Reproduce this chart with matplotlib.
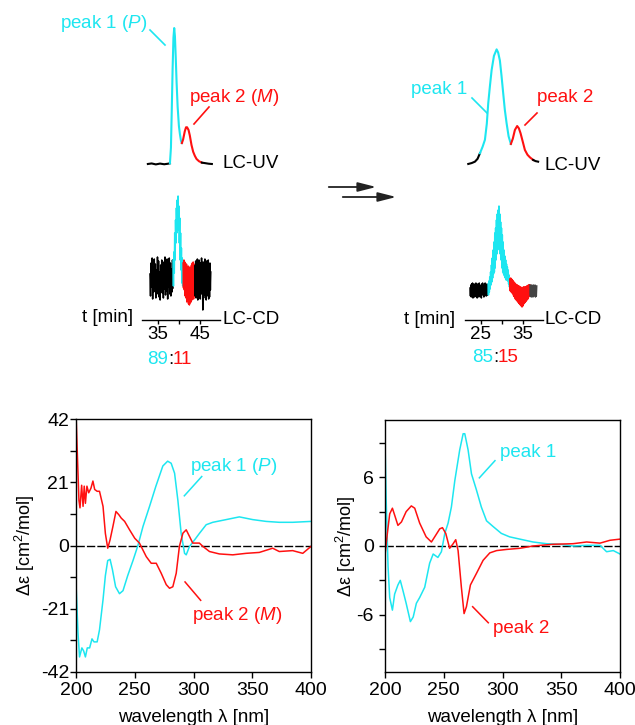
import numpy as np
import matplotlib.pyplot as plt
from matplotlib.lines import Line2D
from matplotlib.patches import FancyArrowPatch

plt.rcParams['font.family'] = ['Liberation Sans', 'DejaVu Sans']
plt.rcParams['mathtext.fontset'] = 'custom'
plt.rcParams['mathtext.rm'] = 'Liberation Sans'
plt.rcParams['mathtext.it'] = 'Liberation Sans:italic'
plt.rcParams['font.size'] = 13.5
plt.rcParams['axes.unicode_minus'] = False

CYAN = '#1de6f0'
RED = '#ff1010'

# ---- LC-UV chromatograms (time in min, absorbance in %) ----
uv1_t = [32.6, 33.5, 34.5, 35.5, 36.5, 37.4, 37.86, 38.1, 38.3, 38.5, 38.7, 38.88,
         39.05, 39.25, 39.45, 39.7, 40.0, 40.24, 40.5, 40.71, 41.0, 41.4, 41.7,
         41.95, 42.3, 42.6, 43.0, 43.4, 43.8, 44.2, 44.8, 45.48, 46.3, 47.1, 47.86]
uv1_a = [0, 0.4, -0.3, 0.3, -0.2, 0.2, 0.5, 12, 40, 70, 93, 100,
         94, 78, 60, 42, 28, 22, 17, 15.4, 18, 24, 27,
         27, 25, 21, 14, 9, 6, 3.7, 2, 1, 0.6, 0.2, 0]
uv1_cuts = [37.86, 40.71, 45.48]

uv2_t = [21.98, 22.8, 23.57, 24.2, 24.76, 25.4, 25.95, 26.4, 26.74, 27.15, 27.55,
         28.1, 28.74, 29.1, 29.52, 29.9, 30.31, 30.7, 31.12, 31.6, 32.14, 32.6,
         33.1, 33.64, 34.05, 34.45, 35.0, 35.48, 36.1, 36.67, 37.45, 38.0, 38.64]
uv2_a = [0, 0.8, 2, 4.5, 9.3, 15, 21, 35, 52.8, 68, 81.7,
         94, 99.7, 97, 90, 77, 61.5, 47, 35.4, 24, 17.4, 22,
         29.6, 33, 31, 26.7, 19, 12.2, 8, 5.8, 3.5, 2.5, 2]
uv2_cuts = [24.76, 32.14, 37.45]

# ---- LC-CD chromatograms (noisy, mdeg arbitrary) ----
cd1_edges = [33.1, 38.6, 41.0, 43.8, 47.6]
cd1_black_a = [4, -18, 15, -9, 20, -21, 11, -14, 19, -6, 14, -20, 8, -16, 21, -12,
               17, -19, 6, -22, 13, -8, 18, -15, 10, -20, 16, -11, 21, -17, 7, -13,
               19, -21, 12, -9, 20, -16, 15, -18, 9, -14, 18, -10]
cd1_cyan = [18, -8, 26, 5, 45, 18, 58, 35, 70, 45, 78, 50, 82, 48, 72, 35, 60, 18,
            45, 8, 30, -5, 20, -8, 15]
cd1_red = [15, -10, 18, -12, 16, -18, 12, -20, 14, -24, 10, -22, 12, -26, 8, -27,
           11, -25, 9, -24, 13, -22, 15, -20, 16, -21, 14, -18, 12]
cd1_black_b = [12, -18, 17, -20, 9, -15, 19, -22, 14, -12, 18, -19, 8, -21, 15, -16,
               20, -13, 11, -32, 16, -20, 13, -17, 19, -14, 10, -22, 17, -18, 12,
               -15, 18, -21, 9, -19, 15, -12, 6]

cd2_edges = [22.4, 26.7, 31.9, 36.7, 38.3]
cd2_black_a = [2, -6, 5, -7, 6, -4, 7, -8, 3, -5, 6, -7, 4, -6, 7, -3, 5, -8, 6, -5,
               3, -7, 7, -4, 5, -6, 2, -8, 6, -5, 7, -3, 4, -7, 5, -6, 7, -4, 3, -6,
               6, -5, 5, -2]
cd2_cyan = [6, -5, 9, -2, 13, 1, 18, 5, 25, 8, 32, 12, 40, 16, 48, 18, 57, 22, 62,
            30, 70, 36, 76, 40, 80, 44, 84, 42, 76, 36, 68, 30, 62, 22, 55, 18, 48,
            16, 40, 14, 34, 12, 30, 10, 26, 10, 23, 9, 20, 6, 15, 3, 11]
cd2_red = [11, -1, 12, -2, 11, -3, 10, -4, 9, -6, 8, -7, 7, -9, 6, -10, 5, -11, 5,
           -12, 4, -13, 4, -14, 3, -15, 3, -16, 2, -17, 2, -16, 3, -14, 3, -13, 3,
           -12, 3, -11, 4, -10, 4, -9, 5, -7, 5, -6, 5]
cd2_black_b = [5, -6, 4, -7, 5, -5, 3, -7, 5, -6, 4, -5, 5, -7, 3, -6, 4]

# ---- CD spectra ----
wl_a_p1 = [200, 201.7, 203, 205, 206.5, 208, 209.6, 211.6, 213.6, 215.3, 218, 220,
           223, 225, 227, 229, 231, 233.7, 237, 240, 244, 248.5, 252.7, 257, 262.6,
           268, 273.9, 278, 281, 283.9, 286.7, 289.5, 292.4, 293.8, 296.6, 301, 305,
           310.8, 316.4, 327.8, 339, 350.4, 361.8, 373, 384.4, 400]
de_a_p1 = [-12.6, -29, -37, -34, -35, -37, -34, -34, -31, -32, -32, -28,
           -18, -10, -5, -4.6, -8, -13.7, -16, -15, -10, -5, 0, 6.3, 13,
           19.7, 26.4, 28, 27.3, 24, 15, 4, -2.6, -3.1, -0.3, 1.9, 4,
           6.9, 7.7, 8.6, 9.5, 8.6, 8, 7.7, 7.7, 8]
wl_a_p2 = [200, 201, 202.5, 203.4, 204.8, 206, 207, 208, 209.3, 210.8, 212.7, 214.4,
           215.9, 218, 220, 223, 225, 227, 229, 231.4, 234, 236.5, 238.5, 241.4,
           245.6, 250, 254, 259.8, 264, 268.3, 272.5, 276.8, 279.6, 282.4, 285.3,
           288, 291, 293.8, 296.6, 299.4, 305, 308, 313.6, 322, 333.4, 344.8, 356,
           367.4, 373, 384.4, 393, 400]
de_a_p2 = [44, 32, 15, 12.5, 20, 13, 19.7, 14, 19.7, 17.5, 19, 21.4,
           18.6, 18, 18, 13, 4, -0.9, 1.9, 6.3, 11.3, 10.2, 9.1, 8,
           5.2, 2.4, 0.8, -3.7, -5.9, -5.9, -9.2, -13, -14.2, -13.7, -9.2,
           -0.3, 4.1, 5.2, 3, 0.8, 0.8, -0.3, -2, -2.8, -3.1, -2.6, -2.3,
           -0.9, -2, -1.7, -2.6, -0.3]

wl_b_p1 = [200, 201, 202.6, 204, 206.3, 208.2, 211, 213, 215.3, 218, 221.6, 224,
           226.7, 229.5, 233.8, 238, 241, 245, 248, 250.9, 253.7, 256.5, 259.4,
           263.6, 266.5, 267.9, 270.7, 273.6, 277.8, 282, 286.4, 292, 299, 306,
           314.8, 326, 337.5, 348.9, 360, 371.6, 383, 388.6, 394.3, 400]
de_b_p1 = [9.2, 4, -1.8, -4.5, -5.6, -4.2, -3.4, -3.0, -3.9, -5, -6.6, -6.2,
           -5, -4.5, -3.6, -1.5, -0.7, -1, -0.5, 1.1, 2, 3.4, 5.7,
           8.4, 9.8, 9.8, 8.4, 6.3, 4.9, 3.4, 2.2, 1.7, 1.1, 0.8,
           0.6, 0.35, 0.2, 0.15, 0, 0.06, 0.06, -0.5, -0.4, -0.7]
wl_b_p2 = [200, 202, 204, 206.3, 208.2, 211, 214, 218, 222.4, 225.3, 229.5, 235,
           239.5, 242.3, 246.6, 248.9, 251.7, 255, 258, 260.2, 262.2, 265, 267.3,
           269.3, 272.7, 277.8, 283.5, 289.2, 295, 303.4, 314.8, 326, 343, 360,
           371.6, 383, 391.5, 400]
de_b_p2 = [-0.8, 1.1, 2.8, 3.3, 2.7, 1.8, 2.1, 3.0, 3.5, 3.3, 2.0, 0.8,
           0.35, 0.8, 1.5, 1.6, 1.1, -0.2, 0.2, 0.55, -0.4, -3.6, -5.9,
           -5.3, -3.4, -2.4, -1.25, -0.6, -0.4, -0.3, -0.2, 0, 0.15, 0.2,
           0.35, 0.25, 0.5, 0.6]

W, H = 635, 725
fig = plt.figure(figsize=(W / 100, H / 100), dpi=100)


def rect(x0, y0, x1, y1):
    # pixel box (top-left origin) -> figure fraction
    return [x0 / W, 1 - y1 / H, (x1 - x0) / W, (y1 - y0) / H]


def ftext(x, y, s, **kw):
    fig.text(x / W, 1 - y / H, s, va='center', **kw)


def fline(x0, y0, x1, y1, color):
    fig.add_artist(Line2D([x0 / W, x1 / W], [1 - y0 / H, 1 - y1 / H],
                          transform=fig.transFigure, color=color, lw=1.2))


def hide_all(ax):
    for s in ax.spines.values():
        s.set_visible(False)
    ax.set_xticks([])
    ax.set_yticks([])
    ax.patch.set_alpha(0)


def draw_uv(ax, t, a, cuts):
    t = np.array(t)
    a = np.array(a)
    edges = [t[0]] + cuts + [t[-1]]
    colors = ['black', CYAN, RED, 'black']
    for i in range(4):
        m = (t >= edges[i]) & (t <= edges[i + 1])
        ax.plot(t[m], a[m], color=colors[i], lw=1.5)


def draw_cd(ax, edges, segs, colors):
    for i, (vals, c) in enumerate(zip(segs, colors)):
        tt = np.linspace(edges[i], edges[i + 1], len(vals))
        ax.plot(tt, vals, color=c, lw=1.1)


# ---- top left schematic ----
ax_uv1 = fig.add_axes(rect(142, 15, 220, 175))
draw_uv(ax_uv1, uv1_t, uv1_a, uv1_cuts)
ax_uv1.set_xlim(31.2, 49.8)
ax_uv1.set_ylim(-8.1, 109.6)
hide_all(ax_uv1)

ax_cd1 = fig.add_axes(rect(142, 185, 220, 320))
draw_cd(ax_cd1, cd1_edges, [cd1_black_a, cd1_cyan, cd1_red, cd1_black_b],
        ['black', CYAN, RED, 'black'])
ax_cd1.set_xlim(31.2, 49.8)
ax_cd1.set_ylim(-42, 93)

# ---- top right schematic ----
ax_uv2 = fig.add_axes(rect(465, 15, 543, 175))
draw_uv(ax_uv2, uv2_t, uv2_a, uv2_cuts)
ax_uv2.set_xlim(21.2, 39.8)
ax_uv2.set_ylim(-9.6, 129.6)
hide_all(ax_uv2)

ax_cd2 = fig.add_axes(rect(465, 185, 543, 320))
draw_cd(ax_cd2, cd2_edges, [cd2_black_a, cd2_cyan, cd2_red, cd2_black_b],
        ['black', CYAN, RED, '#444444'])
ax_cd2.set_xlim(21.2, 39.8)
ax_cd2.set_ylim(-30, 105)

for ax, major, minor in [(ax_cd1, [35, 45], [40]), (ax_cd2, [25, 35], [30])]:
    for side in ['top', 'right', 'left']:
        ax.spines[side].set_visible(False)
    ax.spines['bottom'].set_linewidth(1.0)
    ax.set_yticks([])
    ax.set_xticks(major)
    ax.set_xticks(minor, minor=True)
    ax.tick_params(axis='x', which='both', direction='out', length=3,
                   width=1, pad=1, labelsize=13.5)
    ax.patch.set_alpha(0)

# top texts
ftext(147, 23, 'peak 1 ($\\mathit{P}$)', color=CYAN, ha='right')
fline(150, 30, 165, 45, CYAN)
ftext(189, 97, 'peak 2 ($\\mathit{M}$)', color=RED, ha='left')
fline(209, 107, 194, 124, RED)
ftext(222, 164, 'LC-UV', ha='left')
ftext(222, 320, 'LC-CD', ha='left')
ftext(133, 318, 't [min]', ha='right')
ftext(168, 360, '89', color=CYAN, ha='right')
ftext(170.5, 360, ':', ha='center')
ftext(173, 360, '11', color=RED, ha='left')

ftext(467, 90, 'peak 1', color=CYAN, ha='right')
fline(472, 98, 487, 113, CYAN)
ftext(537, 98, 'peak 2', color=RED, ha='left')
fline(537, 113, 525, 125, RED)
ftext(544, 165, 'LC-UV', ha='left')
ftext(545, 320, 'LC-CD', ha='left')
ftext(455, 320, 't [min]', ha='right')
ftext(493, 358, '85', color=CYAN, ha='right')
ftext(495.5, 358, ':', ha='center')
ftext(498, 358, '15', color=RED, ha='left')

# arrows
for (x0, x1, y) in [(326, 379, 187), (340, 399, 197)]:
    fig.add_artist(FancyArrowPatch((x0 / W, 1 - y / H), (x1 / W, 1 - y / H),
                                   transform=fig.transFigure,
                                   arrowstyle='-|>,head_length=1.1,head_width=0.28',
                                   mutation_scale=10, color='#222222', lw=1.3))

# ---- bottom CD spectra ----
ax_a = fig.add_axes(rect(76, 419, 311, 672))
ax_b = fig.add_axes(rect(385, 420, 620, 672))

ax_a.axhline(0, color='black', lw=1.0, ls=(0, (6, 1.5)), zorder=1)
ax_a.plot(wl_a_p1, de_a_p1, color=CYAN, lw=1.1)
ax_a.plot(wl_a_p2, de_a_p2, color=RED, lw=1.1)
ax_a.set_ylim(-42, 42)
ax_a.set_yticks([-42, -21, 0, 21, 42])
ax_a.set_yticks([-31.5, -10.5, 10.5, 31.5], minor=True)
ax_a.text(296.6, 26.2, 'peak 1 ($\\mathit{P}$)', color=CYAN, va='center')
ax_a.plot([307.0, 292.2], [22.9, 16.5], color=CYAN, lw=1.1)
ax_a.text(298.7, -23.2, 'peak 2 ($\\mathit{M}$)', color=RED, va='center')
ax_a.plot([292.8, 306.1], [-12.1, -18.2], color=RED, lw=1.1)

ax_b.axhline(0, color='black', lw=1.0, ls=(0, (6, 1.5)), zorder=1)
ax_b.plot(wl_b_p1, de_b_p1, color=CYAN, lw=1.1)
ax_b.plot(wl_b_p2, de_b_p2, color=RED, lw=1.1)
ax_b.set_ylim(-11, 11)
ax_b.set_yticks([-6, 0, 6])
ax_b.set_yticks([-9, -3, 3, 9], minor=True)
ax_b.text(297.9, 8.17, 'peak 1', color=CYAN, va='center')
ax_b.plot([293.6, 280.3], [7.45, 5.95], color=CYAN, lw=1.1)
ax_b.text(291.9, -7.16, 'peak 2', color=RED, va='center')
ax_b.plot([274.6, 287.9], [-5.3, -6.7], color=RED, lw=1.1)

for ax, ypad, ylab_x in [(ax_a, 1, -0.217), (ax_b, 4, -0.168)]:
    ax.set_xlim(200, 400)
    ax.set_xticks([200, 250, 300, 350, 400])
    ax.tick_params(which='both', direction='out', length=4, width=1,
                   labelsize=14)
    ax.tick_params(axis='x', pad=3)
    ax.tick_params(axis='y', pad=ypad)
    for s in ax.spines.values():
        s.set_linewidth(1.0)
    ax.set_xlabel('wavelength λ [nm]', va='center')
    ax.set_ylabel('Δε [cm$^2$/mol]', va='center', fontsize=13)
    ax.xaxis.set_label_coords(0.5, -0.179)
    ax.yaxis.set_label_coords(ylab_x, 0.5)

plt.savefig('out.png', dpi=100)
